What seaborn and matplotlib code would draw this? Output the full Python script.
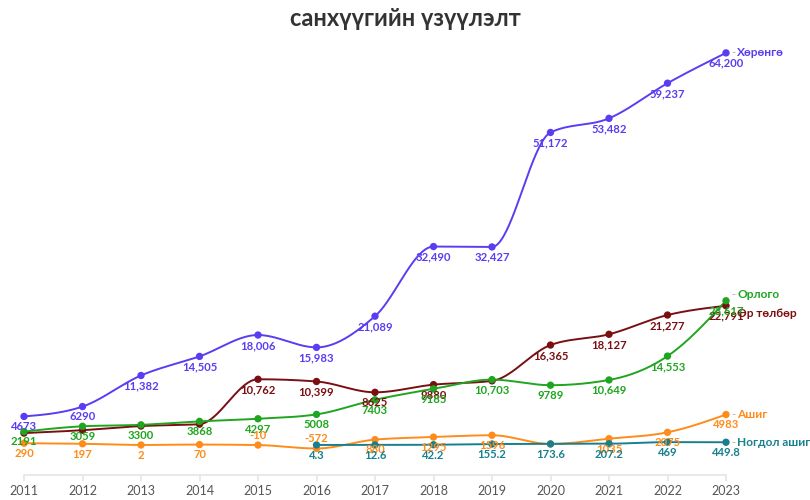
import numpy as np
import pandas as pd
import matplotlib
matplotlib.use("Agg")
import matplotlib.pyplot as plt
import seaborn as sns

years = [2011, 2012, 2013, 2014, 2015, 2016, 2017, 2018, 2019, 2020, 2021, 2022, 2023]
assets = [4673, 6290, 11382, 14505, 18006, 15983, 21089, 32490, 32427, 51172, 53482, 59237, 64200]
revenue = [2191, 3059, 3300, 3868, 4297, 5008, 7403, 9185, 10703, 9789, 10649, 14553, 23617]
liabilities = [1950, 2424, 3100, 3412, 10762, 10399, 8625, 9880, 10500, 16365, 18127, 21277, 22791]
profit = [290, 197, 2, 70, -10, -572, 880, 1295, 1596, 170, 1035, 2075, 4983]
div_years = [2016, 2017, 2018, 2019, 2020, 2021, 2022, 2023]
dividend = [4.3, 12.6, 42.2, 155.2, 173.6, 207.2, 469, 449.8]

series_names = ["Хөрөнгө", "Өр төлбөр", "Орлого", "Ашиг", "Ногдол ашиг"]
colors = {"Хөрөнгө": "#5b3cf2", "Орлого": "#1fa51f", "Өр төлбөр": "#7a0f12",
          "Ашиг": "#ff8c1a", "Ногдол ашиг": "#17808f"}
# labels that sit hidden behind other series' labels in the reference
hidden_labels = {"Өр төлбөр": {0, 1, 2, 3, 8}, "Ашиг": {9}}

sns.set_theme(style="white")
FONT = ["Lato", "Open Sans", "DejaVu Sans"]
plt.rcParams["font.family"] = FONT


def monotone(xs, ys, n=40):
    xs = np.asarray(xs, float); ys = np.asarray(ys, float)
    h = np.diff(xs); s = np.diff(ys) / h
    m = np.zeros_like(ys)
    for i in range(1, len(xs) - 1):
        p = (s[i - 1] * h[i] + s[i] * h[i - 1]) / (h[i - 1] + h[i])
        m[i] = (np.sign(s[i - 1]) + np.sign(s[i])) * min(abs(s[i - 1]), abs(s[i]), 0.5 * abs(p))
    if len(xs) > 2:
        m[0] = (3 * s[0] - m[1]) / 2
        m[-1] = (3 * s[-1] - m[-2]) / 2
    else:
        m[0] = m[-1] = s[0]
    X, Y = [], []
    for i in range(len(xs) - 1):
        t = np.linspace(0, 1, n, endpoint=False)
        h00 = 2 * t**3 - 3 * t**2 + 1; h10 = t**3 - 2 * t**2 + t
        h01 = -2 * t**3 + 3 * t**2; h11 = t**3 - t**2
        X.append(xs[i] + t * h[i])
        Y.append(h00 * ys[i] + h10 * h[i] * m[i] + h01 * ys[i + 1] + h11 * h[i] * m[i + 1])
    X.append([xs[-1]]); Y.append([ys[-1]])
    return np.concatenate(X), np.concatenate(Y)


data = {"Хөрөнгө": (years, assets), "Орлого": (years, revenue),
        "Өр төлбөр": (years, liabilities), "Ашиг": (years, profit),
        "Ногдол ашиг": (div_years, dividend)}

curve_rows, point_rows = [], []
for name in series_names:
    xs, ys = data[name]
    cx, cy = monotone(xs, ys)
    curve_rows.append(pd.DataFrame({"x": cx, "y": cy, "s": name}))
    point_rows.append(pd.DataFrame({"x": xs, "y": ys, "s": name}))
curves = pd.concat(curve_rows, ignore_index=True)
points = pd.concat(point_rows, ignore_index=True)

fig = plt.figure(figsize=(8.1, 5.0), dpi=100)
ax = fig.add_axes([24 / 810, 25 / 500, (726 - 24) / 810, 427 / 500])

sns.lineplot(data=curves, x="x", y="y", hue="s", palette=colors, hue_order=series_names,
             ax=ax, legend=False, linewidth=1.4, sort=False, estimator=None, clip_on=False)
sns.scatterplot(data=points, x="x", y="y", hue="s", palette=colors, hue_order=series_names,
                ax=ax, legend=False, s=28, edgecolor="none", zorder=5, clip_on=False)

ax.set_xlim(2011, 2023)
ax.set_ylim(-4913, 65000)


def fmt(v):
    if isinstance(v, float) and not float(v).is_integer():
        return f"{v:.1f}"
    v = int(v)
    if abs(v) >= 10000:
        return f"{v:,}"
    return str(v)


for name in series_names:
    xs, ys = data[name]
    hidden = hidden_labels.get(name, set())
    for i, (x, y) in enumerate(zip(xs, ys)):
        if i in hidden:
            continue
        if y < 0:
            ax.annotate(fmt(y), (x, y), xytext=(0, 3), textcoords="offset points",
                        ha="center", va="bottom", fontsize=8.1, fontweight="bold",
                        color=colors[name], zorder=6)
        else:
            ax.annotate(fmt(y), (x, y), xytext=(0, -3.5), textcoords="offset points",
                        ha="center", va="top", fontsize=8.1, fontweight="bold",
                        color=colors[name], zorder=6)

end_offsets = {"Хөрөнгө": 0, "Орлого": 4.5, "Өр төлбөр": -5.5, "Ашиг": 0, "Ногдол ашиг": 0}
for name in series_names:
    xs, ys = data[name]
    dy = end_offsets[name]
    ax.annotate("-", (xs[-1], ys[-1]), xytext=(3.5, dy), textcoords="offset points",
                ha="left", va="center", fontsize=8, color="#aaaaaa")
    ax.annotate(name, (xs[-1], ys[-1]), xytext=(8, dy), textcoords="offset points",
                ha="left", va="center", fontsize=8.6, fontweight="bold", color=colors[name])

ax.set_xticks(years)
ax.set_xticklabels([str(y) for y in years], fontsize=9, color="#555555")
ax.set_yticks([])
ax.set_xlabel(""); ax.set_ylabel("")
for sp in ["top", "right", "left"]:
    ax.spines[sp].set_visible(False)
ax.spines["bottom"].set_color("#e6e6e6")
ax.tick_params(axis="x", length=4, color="#e6e6e6", pad=3, bottom=True)
ax.set_facecolor("white")

fig.text(0.5, 1.0 + 13 / 500, "Уул уурхайн салбарын компанийн сүүлийн 13 жилийн",
         ha="center", va="center", fontsize=17, fontweight="bold", color="#333333")
fig.text(0.5, 1 - 19 / 500, "санхүүгийн үзүүлэлт", ha="center", va="center",
         fontsize=17, fontweight="bold", color="#333333")

fig.savefig("out.png", dpi=100, facecolor="white")
